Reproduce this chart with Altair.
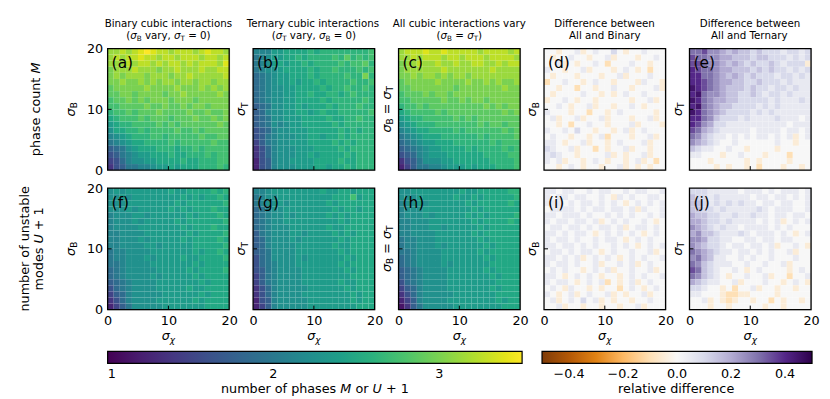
import altair as alt
import pandas as pd

# ---------------- data (20 x 20 cells per panel, rows listed from sigma=20 down to sigma=0) -------------
# one character per cell; index k in CODES.  M-panels: value = 1 + k/8 ; difference panels: value = -0.5 + k/20
CODES = "0123456789ABCDEFGHIJK"

panel_a = [
    "HHIHIJKJIIHIIIHIJIIH", "HIHIIJIIHIIHIIIHIIHI", "HHHIHIIHIHIIHIHIIIHJ", "GHHHIHHHGHHIHHHIHHII",
    "GHGHHHGHHHGHHIHHHHHI", "GGHGGHGHGHHGHHGHHGHH", "FGGGGGHGGGGHGGGHGHGH", "FFGGFGGGGFGGHGGGGGHG",
    "EFFGFGFGGGFGGGFGGGGG", "EEFFFFGFFGFFGFGGFGGG", "DEEFEFFFGFFFFGFFGFFG", "CDEEEFEFFFEFFFGFFGFG",
    "BCDDEEEEFEFEFFFFFFGF", "ACCDDEDEEEEFEEFEFFFF", "9ABCDDDEEDEEEEEFEEFF", "89ABCCDDDDEDEEEEEFEE",
    "678ABCCCDDDCDDEDEEEE", "5689ABBCCCDCCDDDEDEE", "4579AABBCCCCDCCDDDEE", "3568899ABBCBCCCDDDED",
]
panel_b = [
    "999BBCCCCDCDDDDDDDDE", "89ABBCCDCDDDDEDFDEDE", "89ABCBCCDCDDDDEDEEFD", "89AABCCCCDCDDEDDDEDE",
    "789ABBCCCDCDDDDEDDGD", "789ABBCBCCDCDDDDEDDE", "789AABBCCCCDCDDEDDED", "789AABBCCDCCDDCDEDDD",
    "789AABBCCCCDCDDDDDED", "678AABBCBCCCDCDDDEDD", "679AABBCCBCDCCDDDDDE", "678AABBBCCCCDCCDDEDD",
    "678A9ABBCCCCCDCDDDDD", "5679AABBBCCCCCDCDCDD", "5689AAABBCCBCCDCDDDD", "4689AABBBCCCCDCDCDDD",
    "3579AAABBBCCCCDCDDDD", "3579AAABBCBCCCCDCDDD", "2569AABBBBCCCCDCCDDD", "2569AAABBBCCBCCDCDDD",
]
panel_c = [
    "HIIIJIIJIIIIIHIIIIHI", "HHIHIIIHIIHIIIHIIIIH", "GHHIHHIHHIHHIIHHIHII", "GHHHHHHIHHHHHHHIHHHH",
    "GGHGHHGHGHHGHHHHHHHH", "FGGGGGHGGGGHGGHGHGGH", "FFGGGGGGGFGGGGGGGHGG", "EFFFGFGGFGGGGGGGGGGG",
    "EEFFFFFGFFGFGGFGGGGG", "DEEFEFFFFFFFFFGFGFGG", "CDEEEEFEFFFFFFFFFGFG", "BCDDEEEEEFEFEFFFFFFF",
    "ABCDDDEEEEEEEFEFFEFF", "9ABCCDDDDEDEEEEEEFEF", "89ABCCCDDDDDDEDEEEEF", "789ABBCCCDDDDDDEDEEE",
    "6789ABBCCCCDCDDDDEDE", "5679ABBBCCCCCCDDDDEE", "3568AAABBCCCCCCDDDDE", "2468899ABBBCBCCCDDDE",
]
panel_d = [
    "AA9AAB9ABAACA9AABAAA", "A9AABAA9AAB9AAA9AABA", "AAB9A9AABA8AAABAA9AA", "BAA9AAB9AAA9ABA9A8AA",
    "A9AAA9AAA9AAB9AAABAA", "8AABAA9ABAA9AAA9BAA9", "AA9AA8AA9AABAA9AAAB9", "A9AAAABAA9A9ABAABAAA",
    "9AABA9AA9AAAAA9AAB9A", "AABA9AAB9AA9AABA9AAA", "BAAA9AA8AA9ABAAAAA9A", "AB9AAB9AAB9AAA9AAB9A",
    "AA9A8AABAA9AAAB9AAA9", "BAABACAA9AA9AB9ABAAA", "ABAA9AA9AB8AAA9AAB9A", "BBA9AAB9AA9ABAAAB9AA",
    "CBAAB9AA8A9AAB9AA9AA", "BCBAA9AAAAB9A9AAB9AA", "BAB9AA9ABA9AA9AB9A8A", "AA9ABA9AA9AAB9A9A9AA",
]
panel_e = [
    "GGHFFEDEDDCDCCCBCCBC", "HGGFFEEDDDCDDCCCBCBC", "HHGFFEDEDCDCCDCBCCC9", "IHGGFEEDDDCDCDCCBCBC",
    "IIGGFEDEDCDCCCBCCBCB", "IIHGFEEDDCCDCCCBCBBB", "JIHGFEDDDCDCCBCCBCBB", "IJGFFEDDCCDCBCCBCBBB",
    "JIGFEEDDCCCCCBCBBBCB", "IJGFEDDCCCCBCBCBBBBB", "JIGFEDCCCCBCBCBBBBBB", "IIGFDCCCBCBBBBCBBBAB",
    "IHFECCBBBBBBBBBBABBB", "HGEDCBBBBBABBBBABBAB", "GFDCBBABABABBABAB9AB", "FEDCBAABAAAAAABAA9AA",
    "DCBBAABAA9AAAA9AAAAA", "BBAAA9AABAAA9AAA8AAA", "AAA9AAAAA9A9AAAA9AAA", "AAAA9A9AA9A8AAA9AA9A",
]
panel_f = [
    "ABABBBBBBBCBBCCCCDCD", "AABABBBBBBBBCBCBCCDC", "AAABBBBBBBBCBCCCCCCD", "AAABABBBBBCBCBCCCDCC",
    "9AAABBABBBBBBCBCCCDC", "9AAABABBBBBCBCCCCCCD", "9AAAABBBBBBBCBCCCDCC", "99AAAABBBBBBBCBCCCCD",
    "99AAABABBBBBCBCCCCDC", "99AAAABBABBBBBCCCCCD", "899AAAABBBBBBBCBCCDC", "899AAABABBBBCBBCCCCD",
    "889AAAABBBBBBBCBCCCC", "789AAAAABBBBBCBCCCCD", "789AAAABABBBBBCBCCCC", "6789AAAABBBBBBBCBCCC",
    "5789AAAABBBBBCBBCCCC", "4679AAAAABBBBBBCBCCC", "3579AAAABBBBBBCBCCCC", "2468AAAAABBBBBBBCCCC",
]
panel_g = [
    "99ABBBBBBBBCBBCCBCCC", "89AABBBBBBBBBCCCEBCC", "89AABABBBBBBCBCCCCCC", "789AABBBBBBBBCBCCBCC",
    "789AABABBBBBCBCBCCCC", "789AABBBBBBBBBCBCCCC", "789AAABBBBBBCBBCCCCC", "689AAABBABBBBCBCBCCC",
    "679AAABABBBBBBCBCCCC", "679AAAABBBBBBCBBCCCC", "678AAAABBBBBBBCBCCCC", "578AAAABABBBBBBCBCCC",
    "5789AAABBBBBBBCBCCCC", "5689AAAABBBBBBBCBCCC", "4689AAAABBBBBBBBCCCC", "4689AAAABBBBBBCBBCCC",
    "3579AAAAABBBBBBCBCCC", "3579AAAABBBBBBBBCBCC", "2569AAAAABBBBBBBCBCC", "2469AAAAABBBBBBBBCCC",
]
panel_h = [
    "AABBBBBBBBCBBCCCCCDD", "AAABBBBBBCBBCBCCCCCD", "9AABABBBBBBCBCCCCCDC", "9AAABBBBBBBBCBCCCCCC",
    "9AAABABBBBBCBCBCCCCD", "99AAABBBBBBBCBCCCCDC", "99AAABBABBBBBCBCCCCC", "99AAAABBBBBBCBCCCCCC",
    "899AAABBBBBBBCBCCCCC", "899AAABABBBBBBCBCCCC", "889AAAABBBBBBCBCCCCC", "789AAAABBBBBBBCBCCCC",
    "789AAAABABBBBBBCCCCC", "6789AAAABBBBBBCBCCCC", "6789AAAABBBBBBBCBCCC", "5789AAAABBBBBBBBCCCC",
    "4679AAAABBBBBBBCBCCC", "3579AAAAABBBBBBBCCCC", "2469AAAABBBBBBBBCBCC", "1368AAAAABBBBBBBBCCC",
]
panel_i = [
    "BBABBAABABBAABABBAAB", "BABBABBAABA9BABAABBA", "BBBABABBABABA9ABABAB", "ABBBBABABBABBAB9BAAB",
    "BBABBBABAABABABAABAB", "BABBABBAB9ABABAABA9A", "ABBABBABABBAB9ABBABA", "BBABABBA9ABABABA9ABA",
    "BABBABAABABBA9ABABAA", "BBABBABABAABABA9ABAB", "ABBABABBA9ABAABAAB9A", "BBABAB9ABABA9ABABAAB",
    "BABBABAAB9AABAB9ABAA", "ABABAA9ABAB9AABAAB9A", "BBA9ABABA9AA9ABABAAB", "BABBA9ABAB8A9AB9ABAA",
    "ABA9BAA9A9AA8ABA9ABA", "BA9AB9ABAAB9A9AAB9AA", "AB9ABACAB9A9AA9AABAA", "AAB9AA9AA9AA9AAB9AAA",
]
panel_j = [
    "CCCBBBBBABBBABABBBAB", "DCCBCBBBBBABBABBABAB", "DDCBCBCBCBBABBABBAAB", "DDCCBCBBBBBCBABBBAAB",
    "EDDCCBBCBBCBBABBABBA", "EEDCCBCBBBBABAB9ABAB", "FEDCBCBBABBBBABABAAA", "EFDDCBBBCBABBBABA9AB",
    "FFECCBBAABBABBABBAAA", "FEDCCBABBABBAB9AABA9", "GFEDCBBABBABABAAB9AA", "FGEDBBAABABAABAAABAA",
    "GFDCBBBAABAABAAB9AAA", "HGDCBAABA9ABAAAA9ABA", "GFDCBA9AABAAB9AA8AAB", "EDCBBAAB9AAABAA9ABA9",
    "CCBAA9A8AAB9AA9AA9AA", "BBAAA98899AAAA9AAAAA", "AAB9A989AA9AA8A9AA9A", "AAA9AA9AAAAA9AA9AAAA",
]

GRIDS = [panel_a, panel_b, panel_c, panel_d, panel_e, panel_f, panel_g, panel_h, panel_i, panel_j]
KINDS = ["M", "M", "M", "D", "D", "M", "M", "M", "D", "D"]
LETTERS = ["(a)", "(b)", "(c)", "(d)", "(e)", "(f)", "(g)", "(h)", "(i)", "(j)"]
AXIS_TICKS = [0, 10, 20]
CB_TICKS_M = [1, 2, 3]
CB_TICKS_D = [-0.4, -0.2, 0.0, 0.2, 0.4]
M_DOMAIN = [1, 3.5]
PUOR_DOM = [-0.5, -0.4, -0.3, -0.2, -0.1, 0.0, 0.1, 0.2, 0.3, 0.4, 0.5]
PUOR = ["#7f3b08", "#b35806", "#e08214", "#fdb863", "#fee0b6", "#f7f7f7",
        "#d8daeb", "#b2abd2", "#8073ac", "#542788", "#2d004b"]

# titles: segments (text, kind)  n=normal, i=italic, s=subscript roman, si=subscript italic
SB = [("σ", "i"), ("B", "s")]
ST = [("σ", "i"), ("T", "s")]
COL_TITLES = [
    ([("Binary cubic interactions", "n")], [("(", "n")] + SB + [(" vary, ", "n")] + ST + [(" = 0)", "n")]),
    ([("Ternary cubic interactions", "n")], [("(", "n")] + ST + [(" vary, ", "n")] + SB + [(" = 0)", "n")]),
    ([("All cubic interactions vary", "n")], [("(", "n")] + SB + [(" = ", "n")] + ST + [(")", "n")]),
    ([("Difference between", "n")], [("All and Binary", "n")]),
    ([("Difference between", "n")], [("All and Ternary", "n")]),
]
Y_TITLES = [SB, ST, SB + [(" = ", "n")] + ST, SB, ST]
X_TITLE = [("σ", "i"), ("χ", "si")]

# ---------------- layout constants -------------
FONT = "DejaVu Sans"
FS, FT, FL = 12.8, 10.3, 15.5
W, H = 122, 122

WID = {' ': .318, '(': .390, ')': .390, ',': .318, '=': .838, '+': .838, '0': .636, '1': .636,
       'A': .684, 'B': .686, 'D': .770, 'M': .863, 'T': .611, 'U': .732,
       'a': .613, 'b': .635, 'c': .550, 'd': .635, 'e': .615, 'f': .352, 'g': .635, 'h': .634,
       'i': .278, 'l': .278, 'm': .974, 'n': .634, 'o': .612, 'p': .635, 'r': .411, 's': .521,
       't': .392, 'u': .634, 'v': .592, 'w': .818, 'y': .592, 'σ': .634, 'χ': .592}

DUMMY = pd.DataFrame({"d": [0]})


def swidth(t, size):
    return sum(WID.get(c, .6) for c in t) * size


def rich(segs, ax, ay, size, angle=0):
    items = []
    for t, k in segs:
        sz = size * 0.7 if k.startswith("s") else size
        items.append((t, k, sz, swidth(t, sz)))
    total = sum(it[3] for it in items)
    u = -total / 2
    out = []
    for t, k, sz, w in items:
        lead = len(t) - len(t.lstrip(" "))
        uu = u + swidth(" " * lead, sz)
        v = 0.2 * size if k.startswith("s") else 0
        if angle == 0:
            sx, sy = ax + uu, ay + v
        else:
            sx, sy = ax + v, ay - uu
        style = "italic" if k in ("i", "si") else "normal"
        out.append(
            alt.Chart(DUMMY).mark_text(text=t.strip(" "), align="left", baseline="alphabetic", angle=angle,
                                       font=FONT, fontSize=sz, fontStyle=style, color="black")
            .encode(x=alt.value(sx), y=alt.value(sy))
        )
        u += w
    return out


def make_panel(idx):
    grid, kind = GRIDS[idx], KINDS[idx]
    row, col = divmod(idx, 5)
    recs = []
    for r, s in enumerate(grid):
        for c, ch in enumerate(s):
            k = CODES.index(ch)
            v = 1 + k / 8 if kind == "M" else -0.5 + k / 20
            recs.append(dict(x0=c, x1=c + 1, y0=19 - r, y1=20 - r, v=v))
    df = pd.DataFrame(recs)

    xs = alt.Scale(domain=[0, 20], nice=False, zero=False)
    ys = alt.Scale(domain=[0, 20], nice=False, zero=False)
    if row == 1:
        xaxis = alt.Axis(values=AXIS_TICKS, ticks=False, tickSize=0, domain=False, grid=False, title=None,
                         labelFlush=False, labelPadding=5, labelFont=FONT, labelFontSize=FS,
                         labelColor="black", labelAngle=0)
    else:
        xaxis = None
    if col == 0:
        yaxis = alt.Axis(values=AXIS_TICKS, ticks=False, tickSize=0, domain=False, grid=False, title=None,
                         labelFlush=False, labelPadding=5, labelFont=FONT, labelFontSize=FS,
                         labelColor="black")
    else:
        yaxis = None

    if kind == "M":
        cscale = alt.Scale(scheme="viridis", domain=M_DOMAIN)
    else:
        cscale = alt.Scale(domain=PUOR_DOM, range=PUOR, interpolate="rgb")
    if idx == 5:
        legend = alt.Legend(orient="none", legendX=0, legendY=164, direction="horizontal",
                            gradientLength=416, gradientThickness=12, values=CB_TICKS_M, title=None,
                            labelFont=FONT, labelFontSize=FS, labelColor="black", labelAlign="center",
                            labelOffset=5, gradientStrokeColor="black", gradientStrokeWidth=1.2, padding=0,
                            format="d")
    elif idx == 8:
        legend = alt.Legend(orient="none", legendX=-2, legendY=164, direction="horizontal",
                            gradientLength=271, gradientThickness=12, values=CB_TICKS_D, title=None,
                            labelFont=FONT, labelFontSize=FS, labelColor="black", labelAlign="center",
                            labelOffset=5, gradientStrokeColor="black", gradientStrokeWidth=1.2, padding=0,
                            labelExpr="replace(format(datum.value, '.1f'), '-', '−')")
    else:
        legend = None

    layers = []
    layers.append(
        alt.Chart(df).mark_rect().encode(
            x=alt.X("x0:Q", scale=xs, axis=xaxis), x2="x1:Q",
            y=alt.Y("y0:Q", scale=ys, axis=yaxis), y2="y1:Q",
            color=alt.Color("v:Q", scale=cscale, legend=legend),
        )
    )
    # frame
    layers.append(
        alt.Chart(DUMMY).mark_rect(filled=False, stroke="black", strokeWidth=1.3).encode(
            x=alt.value(0), x2=alt.value(W), y=alt.value(0), y2=alt.value(H))
    )
    tick = pd.DataFrame({"t": [10]})
    layers.append(
        alt.Chart(tick).mark_rule(color="black", strokeWidth=1).encode(
            x=alt.X("t:Q", scale=xs, axis=xaxis), y=alt.value(H), y2=alt.value(H - 4))
    )
    layers.append(
        alt.Chart(tick).mark_rule(color="black", strokeWidth=1).encode(
            y=alt.Y("t:Q", scale=ys, axis=yaxis), x=alt.value(0), x2=alt.value(4))
    )
    # panel letter
    layers.append(
        alt.Chart(DUMMY).mark_text(text=LETTERS[idx], align="left", baseline="alphabetic", font=FONT,
                                   fontSize=FL, color="black").encode(x=alt.value(4), y=alt.value(20))
    )
    # y title
    layers += rich(Y_TITLES[col], -33 if col == 0 else -8, H / 2, FS, angle=270)
    if row == 0:
        l1, l2 = COL_TITLES[col]
        layers += rich(l1, W / 2, -21.5, FT)
        layers += rich(l2, W / 2, -9.5, FT)
    else:
        layers += rich(X_TITLE, W / 2, H + 31, FS)
    if col == 0 and row == 0:
        layers += rich([("phase count ", "n"), ("M", "i")], -68, H / 2, FS, angle=270)
    if col == 0 and row == 1:
        layers += rich([("number of unstable", "n")], -79, H / 2, FS, angle=270)
        layers += rich([("modes ", "n"), ("U", "i"), (" + 1", "n")], -65, H / 2, FS, angle=270)
    if idx == 5:
        layers += rich([("number of phases ", "n"), ("M", "i"), (" or ", "n"), ("U", "i"), (" + 1", "n")],
                       208, 206, FS)
    if idx == 8:
        layers += rich([("relative difference", "n")], 133, 206, FS)

    return alt.layer(*layers).properties(width=W, height=H)


panels = [make_panel(i) for i in range(10)]

chart = (
    alt.concat(*panels, columns=5, spacing={"row": 18, "column": 24}, bounds="flush")
    .resolve_scale(color="independent")
    .properties(padding={"left": 10, "top": 10, "right": 2, "bottom": 0})
    .configure_view(strokeWidth=0)
    .configure(font=FONT)
)

chart.save("out.html", embed_options={"renderer": "svg", "actions": False})
